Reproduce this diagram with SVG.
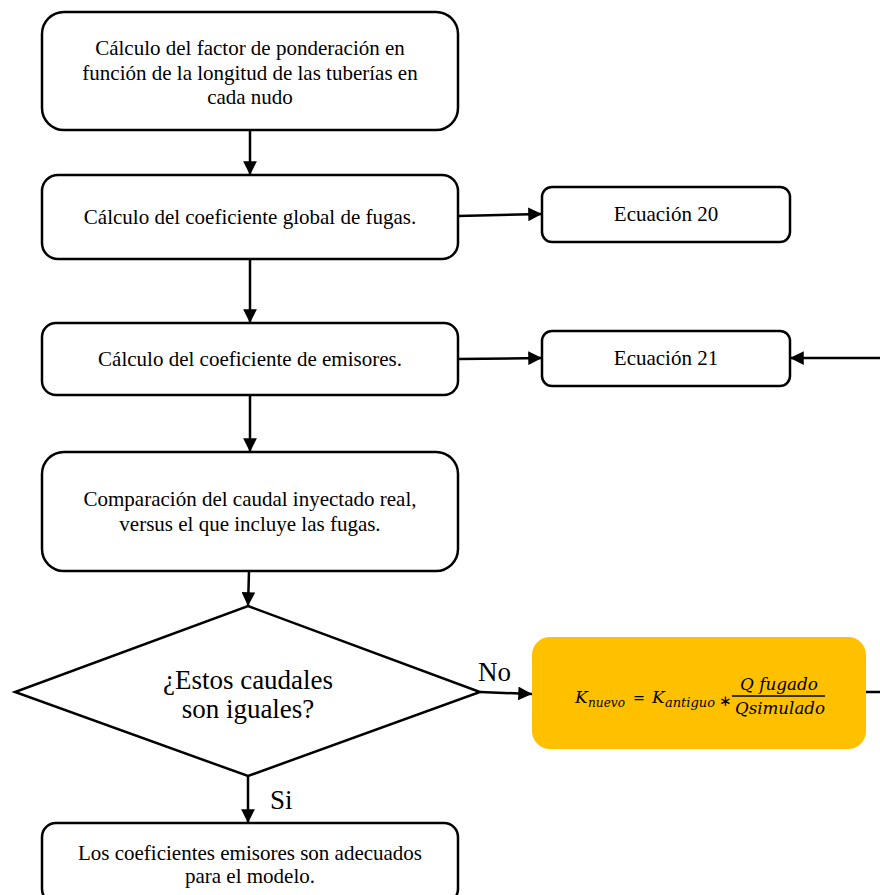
<svg xmlns="http://www.w3.org/2000/svg" width="880" height="895" viewBox="0 0 880 895">
<defs>
<marker id="ah" viewBox="0 0 10 10" refX="10" refY="5" markerWidth="5.5" markerHeight="5.5" orient="auto" markerUnits="strokeWidth"><path d="M0,0 L10,5 L0,10 z" fill="#000"/></marker>
</defs>
<style>
.box{fill:#fff;stroke:#000;stroke-width:2.5}
.t{font-family:'Liberation Serif','DejaVu Serif',serif;font-size:21px;fill:#000;text-anchor:middle}
.big{font-family:'Liberation Serif','DejaVu Serif',serif;font-size:27px;fill:#000}
.m{font-family:'DejaVu Serif','Liberation Serif',serif;font-style:italic;fill:#000}
.c{stroke:#000;stroke-width:2.5;fill:none}
</style>
<rect width="880" height="895" fill="#fff"/>
<g id="connectors">
<path class="c" d="M250,130 V175" marker-end="url(#ah)"/>
<path class="c" d="M250,259 V323" marker-end="url(#ah)"/>
<path class="c" d="M250,395 V452" marker-end="url(#ah)"/>
<path class="c" d="M249,571 L248,606" marker-end="url(#ah)"/>
<path class="c" d="M458,216 L542,214" marker-end="url(#ah)"/>
<path class="c" d="M458,359 L542,358" marker-end="url(#ah)"/>
<path class="c" d="M480,692 L532,694" marker-end="url(#ah)"/>
<path class="c" d="M248,776 V823" marker-end="url(#ah)"/>
<path class="c" d="M866,692 H882"/>
<path class="c" d="M882,358 H790" marker-end="url(#ah)"/>
<text class="big" x="478" y="681">No</text>
<text class="big" x="270" y="809">Si</text>
</g>
<g id="n1"><rect class="box" x="42" y="12" width="416" height="118" rx="22"/>
<text class="t" x="250" y="55">Cálculo del factor de ponderación en</text>
<text class="t" x="250" y="80">función de la longitud de las tuberías en</text>
<text class="t" x="250" y="104">cada nudo</text></g>
<g id="n2"><rect class="box" x="42" y="175" width="416" height="84" rx="16"/>
<text class="t" x="250" y="224">Cálculo del coeficiente global de fugas.</text></g>
<g id="n3"><rect class="box" x="42" y="323" width="416" height="72" rx="14"/>
<text class="t" x="250" y="366">Cálculo del coeficiente de emisores.</text></g>
<g id="n4"><rect class="box" x="42" y="452" width="416" height="119" rx="22"/>
<text class="t" x="250" y="506">Comparación del caudal inyectado real,</text>
<text class="t" x="250" y="531">versus el que incluye las fugas.</text></g>
<g id="n5"><polygon class="box" points="248,606 480,692 248,776 15,692"/>
<text class="big" x="248" y="689" text-anchor="middle">¿Estos caudales</text>
<text class="big" x="248" y="718" text-anchor="middle">son iguales?</text></g>
<g id="n6"><rect class="box" x="42" y="823" width="416" height="80" rx="14"/>
<text class="t" x="250" y="860">Los coeficientes emisores son adecuados</text>
<text class="t" x="250" y="883">para el modelo.</text></g>
<g id="e20"><rect class="box" x="542" y="187" width="248" height="55" rx="10"/>
<text class="t" x="666" y="221">Ecuación 20</text></g>
<g id="e21"><rect class="box" x="542" y="331" width="248" height="55" rx="10"/>
<text class="t" x="666" y="365">Ecuación 21</text></g>
<g id="f"><rect x="532" y="637" width="334" height="112" rx="18" fill="#FFC000"/>
<text class="m" x="575" y="703" font-size="17">K</text>
<text class="m" x="588" y="707" font-size="12" textLength="37" lengthAdjust="spacingAndGlyphs">nuevo</text>
<text x="633" y="703" font-size="17" font-family="'DejaVu Serif',serif" textLength="12" lengthAdjust="spacingAndGlyphs">=</text>
<text class="m" x="652" y="703" font-size="17">K</text>
<text class="m" x="665" y="707" font-size="12" textLength="50" lengthAdjust="spacingAndGlyphs">antiguo</text>
<text x="719" y="706" font-size="15" font-family="'DejaVu Sans',sans-serif">∗</text>
<text class="m" x="740" y="690" font-size="16" textLength="78" lengthAdjust="spacingAndGlyphs">Q fugado</text>
<line x1="732" y1="696" x2="825" y2="696" stroke="#000" stroke-width="1.5"/>
<text class="m" x="735" y="714" font-size="16" textLength="90" lengthAdjust="spacingAndGlyphs">Qsimulado</text></g>
</svg>
